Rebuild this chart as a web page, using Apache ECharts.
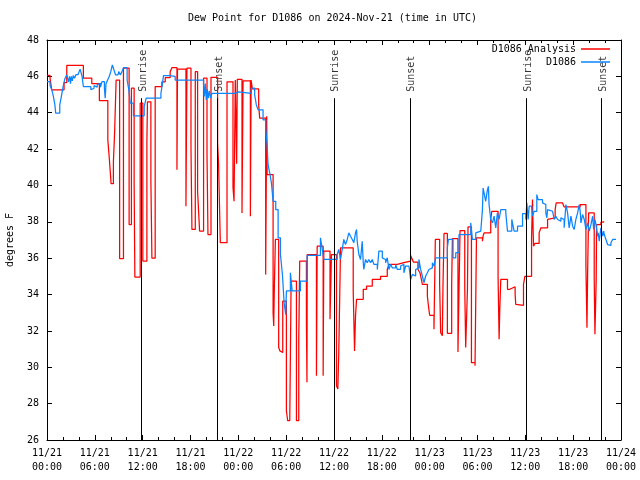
<!DOCTYPE html>
<html><head><meta charset="utf-8">
<script src="https://cdn.jsdelivr.net/npm/echarts@6/dist/echarts.min.js"></script>
<style>html,body{margin:0;padding:0;background:#fff}#c{width:640px;height:480px}</style>
</head><body><div id="c"></div>
<script>
const titleText = 'Dew Point for D1086 on 2024-Nov-21 (time in UTC)';
const yAxisTitle = 'degrees F';
const seriesNames = ['D1086 Analysis', 'D1086'];
const eventHours = [11.81, 21.40, 35.97, 45.52, 60.10, 69.52];
const eventNames = ['Sunrise', 'Sunset', 'Sunrise', 'Sunset', 'Sunrise', 'Sunset'];
const startMonth = 11, startDay = 21;

// [hours since 2024-11-21 00:00 UTC, dew point F]
const analysisData = [
[0,46.05],[0.38,45.9],[0.59,45.26],[2.14,45.66],[2.48,46.6],[4.56,45.9],[5.62,45.6],[6.57,44.67],
[7.63,42.5],[7.83,41.4],[8.04,40.1],[8.33,41.3],[8.48,42.9],[8.67,45.8],[9.11,35.98],[9.59,46.45],
[10.3,37.85],[10.59,45.35],[10.93,40.1],[11.02,34.96],[11.69,44.53],[12.02,35.84],[12.53,42.4],[12.6,44.6],
[13.03,40.3],[13.16,36.0],[13.57,45.44],[14.41,45.7],[14.83,45.93],[15.45,46.26],[15.67,46.48],[16.3,40.87],
[16.37,46.4],[17.43,38.86],[17.55,46.45],[18.06,42.06],[18.18,37.58],[18.6,46.26],[18.89,39.68],[19.14,37.49],
[19.64,45.9],[20.07,41.69],[20.19,37.3],[20.57,45.95],[21.4,42.33],[21.52,41.24],[21.74,36.85],[22.58,45.7],
[23.33,39.9],[23.46,39.13],[23.62,45.8],[23.79,41.2],[23.87,45.84],[24.46,38.49],[24.59,45.75],[25.51,38.31],
[25.6,45.8],[25.76,45.31],[26.55,44.43],[26.68,43.7],[27.43,35.1],[27.56,43.8],[27.61,40.6],[28.36,33.0],
[28.44,32.27],[28.52,34.5],[28.65,37.03],[29.06,31.09],[29.21,30.9],[29.36,30.81],[29.57,33.64],[30.03,27.61],
[30.19,27.06],[30.45,27.1],[30.62,34.74],[31.29,27.06],[31.58,31.45],[31.7,35.84],[32.54,32.55],[32.61,29.17],
[32.64,36.2],[33.8,29.53],[33.89,36.66],[34.64,29.53],[34.72,36.39],[35.5,32.64],[35.68,36.2],[36.31,28.98],
[36.48,28.8],[36.6,30.81],[36.82,36.57],[38.41,34.2],[38.58,30.9],[38.7,32.82],[38.83,33.74],[39.67,34.29],
[40.08,34.47],[40.8,34.83],[41.84,35.0],[42.68,35.38],[42.89,35.66],[43.94,35.75],[44.77,35.84],[45.61,36.15],
[45.83,35.93],[45.95,35.79],[46.53,35.38],[46.78,35.2],[46.96,34.83],[47.08,34.56],[47.71,33.92],[47.84,33.4],
[48.0,32.86],[48.54,32.09],[48.71,37.03],[49.25,34.56],[49.38,31.9],[49.59,31.73],[49.67,34.47],[49.8,37.36],
[50.22,31.87],[50.76,34.56],[50.85,37.07],[51.55,30.84],[51.68,34.2],[51.81,37.52],[52.4,34.38],[52.52,31.09],
[52.74,34.3],[52.81,37.72],[53.24,30.26],[53.69,30.08],[53.78,33.64],[53.87,37.12],[54.62,36.93],[54.7,37.21],
[54.82,37.39],[55.66,38.13],[55.79,38.58],[56.58,35.0],[56.71,31.54],[56.79,33.09],[56.92,34.83],[57.76,34.29],
[58.05,34.4],[58.3,34.43],[58.72,34.01],[58.8,33.46],[59.02,33.41],[59.77,34.56],[59.94,35.0],[60.78,37.12],
[60.9,39.22],[60.98,37.5],[61.03,36.66],[61.19,36.81],[61.73,37.39],[61.95,37.67],[62.79,38.13],[62.99,38.22],
[63.74,38.67],[63.87,39.04],[64.67,38.95],[64.87,38.82],[66.88,38.95],[67.6,35.57],[67.73,32.18],[67.82,35.38],
[67.94,38.49],[68.64,34.83],[68.73,31.82],[68.86,31.8],[68.89,34.83],[68.94,37.85],[69.48,37.98],[69.82,38.03]
];

const observedData = [
[0,45.71],[0.38,45.5],[0.6,45.26],[0.8,44.9],[1.0,44.4],[1.09,43.98],[1.6,44.43],[1.8,44.89],[2.02,45.44],
[2.23,45.85],[2.48,46.08],[2.68,45.7],[2.83,46.0],[2.95,45.6],[3.05,46.0],[3.18,45.75],[3.3,46.05],[3.46,45.9],
[3.64,46.1],[3.9,46.2],[4.15,46.4],[4.4,46.0],[4.56,45.44],[5.5,45.26],[5.7,45.35],[5.9,45.5],[6.1,45.4],
[6.3,45.55],[6.5,45.62],[6.7,45.4],[6.9,45.71],[7.2,45.35],[7.3,44.8],[7.4,45.6],[7.6,45.8],[7.8,45.99],
[8.0,46.26],[8.2,46.63],[8.4,46.35],[8.6,46.08],[8.9,46.1],[9.0,46.26],[9.2,46.08],[9.4,46.26],[9.59,46.48],
[10.05,45.8],[10.3,45.16],[10.43,44.53],[10.84,43.83],[12.19,44.34],[12.44,44.8],[14.29,45.07],[14.45,45.5],
[14.61,46.04],[15.39,46.0],[16.08,45.8],[19.64,45.5],[19.73,44.9],[19.85,45.6],[19.98,44.7],[20.1,45.3],
[20.23,44.8],[20.36,45.2],[20.52,44.8],[20.69,45.07],[23.62,45.15],[24.0,45.07],[25.63,45.35],[26.05,44.98],
[26.26,44.43],[26.48,44.16],[27.1,43.61],[27.43,43.16],[27.61,42.24],[27.73,41.14],[27.93,40.69],[28.15,40.14],
[28.36,39.13],[28.69,38.67],[28.99,37.12],[29.28,36.2],[29.53,35.1],[29.74,33.56],[29.94,32.9],[30.03,34.2],
[30.53,35.2],[30.75,34.2],[31.79,34.74],[32.63,36.15],[34.3,37.12],[34.49,36.6],[34.72,35.93],[36.4,36.2],
[36.6,36.48],[36.82,35.93],[37.03,36.48],[37.23,37.03],[37.44,36.75],[37.66,37.03],[37.86,37.39],[38.07,37.21],
[38.29,37.03],[38.49,36.85],[38.7,37.39],[38.83,37.58],[38.91,36.93],[39.12,36.2],[39.33,35.93],[39.54,36.93],
[39.67,35.75],[39.74,35.38],[39.96,35.93],[40.17,35.75],[40.37,35.93],[40.58,35.75],[40.8,35.93],[41.0,35.66],
[41.43,35.38],[41.63,36.39],[42.06,36.02],[42.26,35.93],[42.47,35.75],[42.68,36.02],[42.89,35.38],[43.1,35.66],
[43.31,35.47],[43.73,35.66],[43.94,35.38],[44.35,35.57],[44.57,35.66],[44.77,35.2],[44.98,35.57],[45.4,35.66],
[45.61,34.83],[45.83,35.11],[46.03,35.02],[46.24,35.38],[46.45,35.47],[46.65,35.93],[46.87,35.38],[47.08,35.02],
[47.28,34.65],[47.5,35.02],[47.71,35.2],[47.91,35.38],[48.12,35.47],[48.34,35.75],[48.54,35.57],[48.75,36.02],
[50.22,36.57],[50.35,37.03],[50.93,36.02],[51.27,36.3],[51.68,37.3],[53.15,37.94],[53.28,37.39],[53.36,37.03],
[53.78,37.39],[53.99,37.49],[54.41,37.58],[54.62,38.67],[54.7,39.86],[54.82,39.59],[55.03,39.13],[55.25,39.77],
[55.37,39.95],[55.45,38.95],[55.66,38.13],[55.88,37.94],[56.08,38.31],[56.29,37.67],[56.5,38.49],[56.71,38.13],
[56.92,38.67],[57.55,38.49],[57.76,37.49],[58.3,38.13],[58.47,37.76],[58.59,37.49],[59.02,37.76],[59.65,38.45],
[60.06,38.13],[60.19,39.04],[60.35,38.13],[60.48,38.86],[60.78,38.77],[60.9,38.31],[61.1,38.58],[61.44,39.5],
[61.6,39.22],[62.16,39.04],[62.36,38.95],[62.57,38.49],[62.7,38.22],[62.79,38.67],[62.99,38.58],[63.42,38.49],
[63.62,38.13],[63.83,38.31],[64.05,38.13],[64.25,38.03],[64.46,38.22],[64.67,38.13],[64.87,37.67],[65.09,38.95],
[65.3,38.49],[65.5,37.67],[65.72,38.31],[65.93,37.76],[66.13,37.58],[66.34,38.13],[66.56,38.49],[66.76,38.95],
[66.88,38.58],[66.97,37.94],[67.18,38.4],[67.39,38.13],[67.6,37.58],[67.82,37.94],[68.02,37.49],[68.23,37.85],
[68.44,38.31],[68.57,37.58],[68.73,38.13],[68.86,37.85],[69.07,37.21],[69.14,37.39],[69.27,36.94],[69.48,37.67],
[69.7,37.21],[69.82,37.49],[69.9,37.3],[70.11,37.03],[70.32,36.75],[70.49,36.7],[70.74,36.85],[70.95,37.03],[71.37,37.03]
];

const FONT = 'DejaVu Sans Mono';
function pad(n){ return (n < 10 ? '0' : '') + n; }
function xLabel(h){
  const d = startDay + Math.floor(h / 24);
  const hh = Math.round(h % 24);
  return startMonth + '/' + d + '\n' + pad(hh) + ':00';
}
const tickStyle = {color:'#000', width:1};
function xAx(pos, labels){
  return {type:'value', position:pos, min:0, max:72, interval:6,
    axisLine:{show:true, onZero:false, lineStyle:tickStyle},
    axisTick:{show:true, inside:true, length:5, lineStyle:tickStyle},
    minorTick:{show:true, splitNumber:3, length:3, lineStyle:tickStyle},
    axisLabel:{show:labels, formatter:xLabel, fontFamily:FONT, fontSize:10, color:'#000', lineHeight:14, margin:6},
    splitLine:{show:false}, minorSplitLine:{show:false}};
}
function yAx(pos, labels){
  return {type:'value', position:pos, min:26, max:48, interval:2,
    axisLine:{show:true, onZero:false, lineStyle:tickStyle},
    axisTick:{show:true, inside:true, length:5, lineStyle:tickStyle},
    axisLabel:{show:labels, fontFamily:FONT, fontSize:10, color:'#000', margin:8},
    splitLine:{show:false}};
}
const legendBase = {orient:'vertical', align:'right', right:30, icon:'rect', itemWidth:29, itemHeight:1.5,
  padding:0, selectedMode:false, textStyle:{fontFamily:FONT, fontSize:10, color:'#000'}};

const chart = echarts.init(document.getElementById('c'), null, {renderer:'canvas'});
chart.setOption({
  animation:false,
  backgroundColor:'#fff',
  title:{text:titleText, left:188, top:13, padding:0,
    textStyle:{fontFamily:FONT, fontSize:10, fontWeight:'normal', color:'#000'}},
  legend:[
    Object.assign({}, legendBase, {data:[seriesNames[0]], top:44}),
    Object.assign({}, legendBase, {data:[seriesNames[1]], top:57})
  ],
  grid:{left:47, right:19, top:40, bottom:40},
  xAxis:[xAx('bottom', true), xAx('top', false)],
  yAxis:[yAx('left', true), yAx('right', false)],
  graphic:[{type:'text', x:10, y:240, rotation:Math.PI/2,
    style:{text:yAxisTitle, font:'10px "DejaVu Sans Mono"', fill:'#000', textAlign:'center', textVerticalAlign:'middle'}}],
  series:[
    {name:seriesNames[0], type:'line', step:'end', data:analysisData, showSymbol:false, symbol:'none',
      color:'#ff0000', lineStyle:{width:1.25, color:'#ff0000'}},
    {name:seriesNames[1], type:'line', step:'end', data:observedData, showSymbol:false, symbol:'none',
      color:'#0a84ff', lineStyle:{width:1.25, color:'#0a84ff'}},
    {name:'events', type:'scatter', symbolSize:0, silent:true,
      data:eventHours.map((h, i) => [h, 45.15, eventNames[i]]),
      label:{show:true, formatter:p => p.data[2], rotate:90, position:[2, 0], align:'left', verticalAlign:'middle',
        fontFamily:FONT, fontSize:10, color:'#000'},
      markLine:{silent:true, symbol:['none','none'], label:{show:false},
        lineStyle:{color:'#000', width:1, type:'solid'},
        data:eventHours.map(h => [{coord:[h, 44.8]}, {coord:[h, 26]}])}}
  ]
});
</script></body></html>
